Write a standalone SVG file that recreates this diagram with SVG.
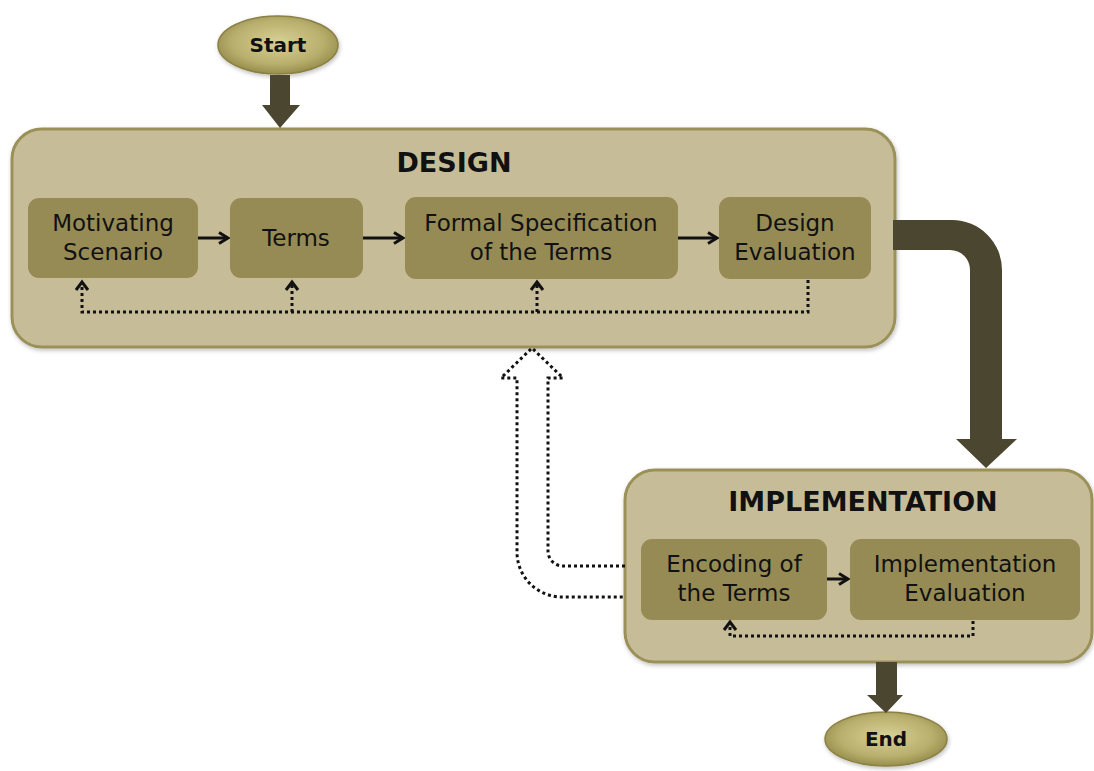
<svg xmlns="http://www.w3.org/2000/svg" width="1094" height="771" viewBox="0 0 1094 771">
  <defs>
    <radialGradient id="oval" cx="50%" cy="45%" r="55%">
      <stop offset="0" stop-color="#d8d196"/>
      <stop offset="0.7" stop-color="#b8ae6c"/>
      <stop offset="1" stop-color="#978d4c"/>
    </radialGradient>
    <filter id="soft" x="-10%" y="-10%" width="120%" height="130%">
      <feDropShadow dx="1" dy="2" stdDeviation="2" flood-color="#000" flood-opacity="0.25"/>
    </filter>
    <marker id="arr" viewBox="0 0 14 14" refX="12" refY="7" markerWidth="14" markerHeight="14" orient="auto" markerUnits="userSpaceOnUse">
      <path d="M3 1.5 L12 7 L3 12.5" fill="none" stroke="#111" stroke-width="3"/>
    </marker>
  </defs>
  <style>
    .panel { fill: #c6bd98; stroke: #9b9159; stroke-width: 3; }
    .box { fill: #968b55; }
    .oval { fill: url(#oval); stroke: #8a8044; stroke-width: 1.5; }
    .big { fill: #4b4630; }
    .lbl { font-family: "Comic Sans MS", "DejaVu Sans", sans-serif; font-size: 23px; fill: #111; text-anchor: middle; }
    .ttl { font-family: "Comic Sans MS", "DejaVu Sans", sans-serif; font-size: 27px; font-weight: bold; fill: #111; text-anchor: middle; }
    .term { font-family: "Comic Sans MS", "DejaVu Sans", sans-serif; font-size: 20px; font-weight: bold; fill: #111; text-anchor: middle; }
    .flow { fill: none; stroke: #111; stroke-width: 3; }
    .dot { fill: none; stroke: #111; stroke-width: 3; stroke-dasharray: 3 3; }
  </style>

  <!-- Start terminal -->
  <g id="start">
    <ellipse class="oval" cx="278" cy="45" rx="60" ry="29" filter="url(#soft)"/>
    <text class="term" x="278" y="52">Start</text>
  </g>

  <!-- DESIGN phase -->
  <g id="design">
    <rect class="panel" x="12" y="129" width="883" height="218" rx="30" filter="url(#soft)"/>
    <text class="ttl" x="454" y="172">DESIGN</text>
  </g>
  <g id="motivating-scenario">
    <rect class="box" x="28" y="198" width="170" height="80" rx="11"/>
    <text class="lbl" x="113" y="231">Motivating</text>
    <text class="lbl" x="113" y="260">Scenario</text>
  </g>
  <g id="terms">
    <rect class="box" x="230" y="198" width="133" height="80" rx="11"/>
    <text class="lbl" x="296" y="246">Terms</text>
  </g>
  <g id="formal-specification">
    <rect class="box" x="405" y="197" width="273" height="82" rx="11"/>
    <text class="lbl" x="541" y="231">Formal Specification</text>
    <text class="lbl" x="541" y="260">of the Terms</text>
  </g>
  <g id="design-evaluation">
    <rect class="box" x="719" y="197" width="152" height="82" rx="11"/>
    <text class="lbl" x="795" y="231">Design</text>
    <text class="lbl" x="795" y="260">Evaluation</text>
  </g>

  <!-- IMPLEMENTATION phase -->
  <g id="implementation">
    <rect class="panel" x="625" y="470" width="467" height="192" rx="30" filter="url(#soft)"/>
    <text class="ttl" x="863" y="511">IMPLEMENTATION</text>
  </g>
  <g id="encoding">
    <rect class="box" x="641" y="539" width="186" height="81" rx="11"/>
    <text class="lbl" x="734" y="572">Encoding of</text>
    <text class="lbl" x="734" y="601">the Terms</text>
  </g>
  <g id="implementation-evaluation">
    <rect class="box" x="850" y="539" width="230" height="81" rx="11"/>
    <text class="lbl" x="965" y="572">Implementation</text>
    <text class="lbl" x="965" y="601">Evaluation</text>
  </g>

  <!-- End terminal -->
  <g id="end">
    <ellipse class="oval" cx="886" cy="739" rx="61" ry="27" filter="url(#soft)"/>
    <text class="term" x="886" y="746">End</text>
  </g>

  <!-- Connectors -->
  <g id="connectors">
    <!-- phase flow (thick block arrows) -->
    <path class="big" d="M270 75 H290 V105 H300 L280 128 L262 105 H270 Z"/>
    <path class="big" d="M893 220 H952 A50 50 0 0 1 1002 270 V439 H1017 L986 468 L956 439 H970 V270 A20 20 0 0 0 950 250 H893 Z"/>
    <path class="big" d="M876 662 H897 V695 H903 L886 713 L867 695 H876 Z"/>

    <!-- step flow inside DESIGN -->
    <line class="flow" x1="198" y1="238" x2="228" y2="238" marker-end="url(#arr)"/>
    <line class="flow" x1="363" y1="238" x2="403" y2="238" marker-end="url(#arr)"/>
    <line class="flow" x1="678" y1="238" x2="717" y2="238" marker-end="url(#arr)"/>
    <!-- step flow inside IMPLEMENTATION -->
    <line class="flow" x1="827" y1="579" x2="848" y2="579" marker-end="url(#arr)"/>

    <!-- design feedback loop -->
    <path class="dot" d="M808 280 V312 H82 V284"/>
    <line class="dot" x1="292" y1="312" x2="292" y2="284"/>
    <line class="dot" x1="537" y1="312" x2="537" y2="284"/>
    <path class="flow" d="M76 290 L82 282 L88 290" stroke-width="2.5"/>
    <path class="flow" d="M286 290 L292 282 L298 290" stroke-width="2.5"/>
    <path class="flow" d="M531 290 L537 282 L543 290" stroke-width="2.5"/>

    <!-- implementation feedback loop -->
    <path class="dot" d="M973 621 V636 H730 V624"/>
    <path class="flow" d="M724 630 L730 622 L736 630" stroke-width="2.5"/>

    <!-- return to DESIGN (hollow dotted block arrow) -->
    <path class="dot" d="M625 566 H563 A15 15 0 0 1 548 551 V378 H563 L532 348 L501 378 H517 V552 A45 45 0 0 0 562 597 H625" stroke-width="2.5"/>
  </g>
</svg>
